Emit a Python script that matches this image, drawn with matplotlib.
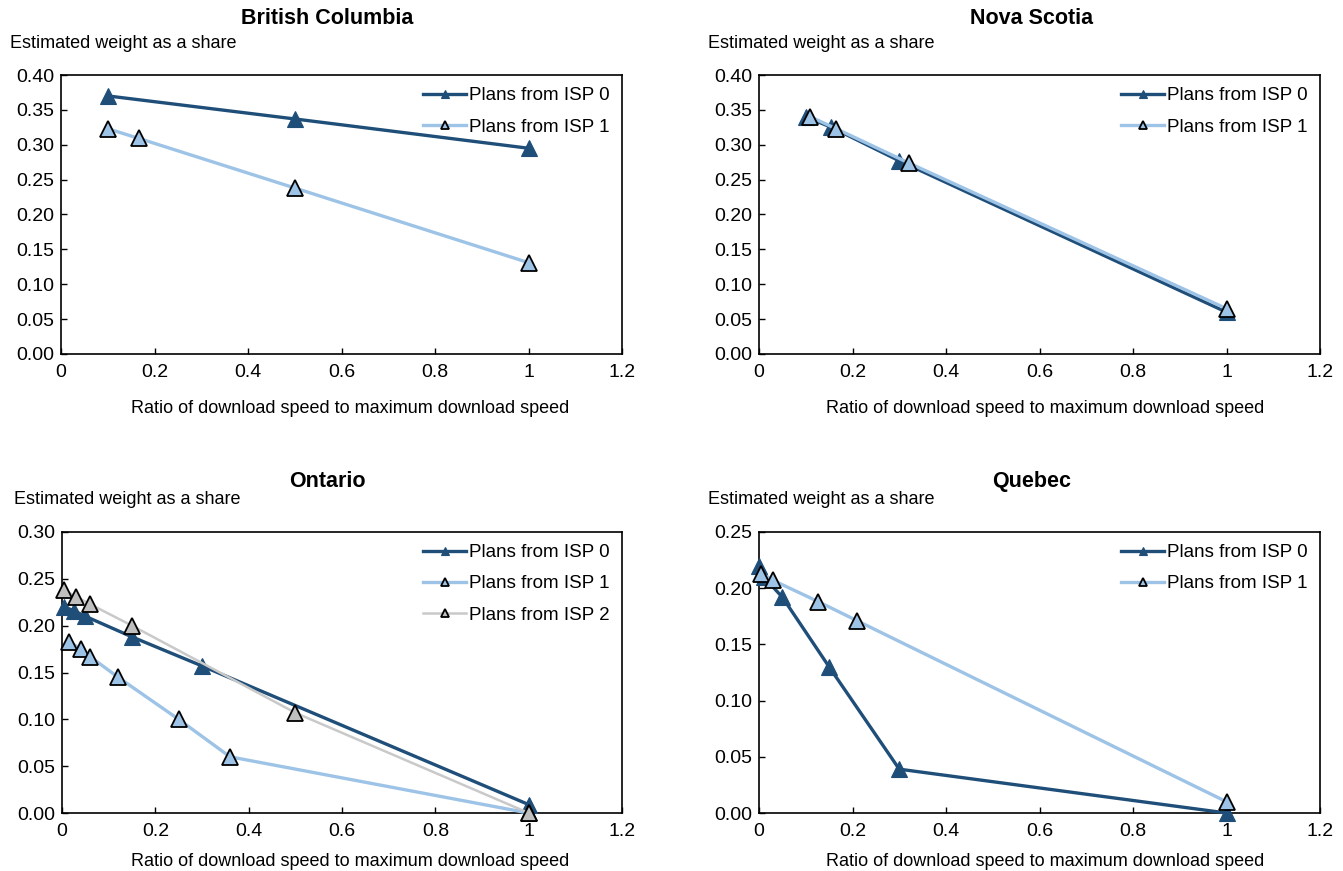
import matplotlib
matplotlib.use("Agg")
import matplotlib.pyplot as plt
from matplotlib import font_manager

fams = [f.name for f in font_manager.fontManager.ttflist]
narrow = "Liberation Sans Narrow" if "Liberation Sans Narrow" in fams else "Liberation Sans"
plt.rcParams['font.family'] = [narrow, 'DejaVu Sans']

# ---- data ----
bc_x0 = [0.1, 0.5, 1.0]
bc_y0 = [0.370, 0.337, 0.295]
bc_x1 = [0.1, 0.167, 0.5, 1.0]
bc_y1 = [0.323, 0.309, 0.238, 0.131]

ns_x0 = [0.1, 0.155, 0.30, 1.0]
ns_y0 = [0.340, 0.325, 0.277, 0.060]
ns_x1 = [0.11, 0.165, 0.32, 1.0]
ns_y1 = [0.340, 0.323, 0.274, 0.065]

on_x0 = [0.005, 0.025, 0.05, 0.15, 0.30, 1.0]
on_y0 = [0.220, 0.216, 0.210, 0.188, 0.157, 0.009]
on_x1 = [0.015, 0.04, 0.06, 0.12, 0.25, 0.36, 1.0]
on_y1 = [0.183, 0.175, 0.167, 0.145, 0.100, 0.060, 0.000]
on_x2 = [0.005, 0.03, 0.06, 0.15, 0.50, 1.0]
on_y2 = [0.238, 0.231, 0.223, 0.200, 0.107, 0.000]

qc_x0 = [0.0, 0.01, 0.05, 0.15, 0.30, 1.0]
qc_y0 = [0.220, 0.210, 0.192, 0.130, 0.039, 0.000]
qc_x1 = [0.005, 0.03, 0.127, 0.21, 1.0]
qc_y1 = [0.213, 0.207, 0.188, 0.171, 0.010]

titles = ["British Columbia", "Nova Scotia", "Ontario", "Quebec"]
legend_labels = ["Plans from ISP 0", "Plans from ISP 1", "Plans from ISP 2"]
x_ticks = [0, 0.2, 0.4, 0.6, 0.8, 1.0, 1.2]
x_ticklabels = ["0", "0.2", "0.4", "0.6", "0.8", "1", "1.2"]
ylabel = "Estimated weight as a share"
xlabel = "Ratio of download speed to maximum download speed"

DARK = "#1F4E79"
LIGHT = "#9DC3E6"
GREY = "#C9C9C9"
GREY_FACE = "#BFBFBF"

fig = plt.figure(figsize=(13.43, 8.71), dpi=100)
W, H = 1343, 871

def axes_px(x0, x1, ytop, ybot):
    return fig.add_axes([x0 / W, 1 - ybot / H, (x1 - x0) / W, (ybot - ytop) / H])

panels = [
    dict(pos=(61, 622, 75, 354), ymax=0.40, yt=0.05,
         series=[(bc_x0, bc_y0, 0), (bc_x1, bc_y1, 1)],
         title_xy=(327, 18), ylab_xy=(10, 43), xlab_xy=(350, 408)),
    dict(pos=(759, 1320, 75, 354), ymax=0.40, yt=0.05,
         series=[(ns_x0, ns_y0, 0), (ns_x1, ns_y1, 1)],
         title_xy=(1032, 18), ylab_xy=(708, 43), xlab_xy=(1045, 408)),
    dict(pos=(62, 622, 532, 813), ymax=0.30, yt=0.05,
         series=[(on_x0, on_y0, 0), (on_x1, on_y1, 1), (on_x2, on_y2, 2)],
         title_xy=(327, 481), ylab_xy=(14, 500), xlab_xy=(350, 861)),
    dict(pos=(759, 1320, 532, 813), ymax=0.25, yt=0.05,
         series=[(qc_x0, qc_y0, 0), (qc_x1, qc_y1, 1)],
         title_xy=(1032, 481), ylab_xy=(708, 500), xlab_xy=(1045, 861)),
]

styles = {
    0: dict(color=DARK, lw=2.4, mfc=DARK, mec=DARK, ms=11, mew=0.8),
    1: dict(color=LIGHT, lw=2.4, mfc=LIGHT, mec="black", ms=11, mew=1.3),
    2: dict(color=GREY, lw=1.8, mfc=GREY_FACE, mec="black", ms=11, mew=1.3),
}

for p, title in zip(panels, titles):
    ax = axes_px(*p["pos"])
    handles = []
    for xs, ys, k in p["series"]:
        st = styles[k]
        ln, = ax.plot(xs, ys, color=st["color"], lw=st["lw"], marker="^",
                      markerfacecolor=st["mfc"], markeredgecolor=st["mec"],
                      markersize=st["ms"], markeredgewidth=st["mew"],
                      label=legend_labels[k], clip_on=False, zorder=3 + k)
        handles.append(ln)
    ax.set_xlim(0, 1.2)
    ax.set_ylim(0, p["ymax"])
    ax.set_xticks(x_ticks)
    ax.set_xticklabels(x_ticklabels)
    n = int(round(p["ymax"] / p["yt"]))
    yticks = [i * p["yt"] for i in range(n + 1)]
    ax.set_yticks(yticks)
    ax.set_yticklabels([f"{v:.2f}" for v in yticks])
    ax.tick_params(axis="both", direction="in", length=4, width=1, labelsize=14,
                   colors="black")
    ax.tick_params(axis="x", pad=7)
    ax.tick_params(axis="y", pad=5)
    for s in ax.spines.values():
        s.set_linewidth(1.2)
        s.set_color("black")
    leg = ax.legend(handles=handles, loc="upper right", frameon=False,
                    fontsize=13.5, handlelength=2.3, handletextpad=0.15,
                    labelspacing=0.75, borderaxespad=0.25, markerscale=0.5,
                    borderpad=0.4)
    tx, ty = p["title_xy"]
    fig.text(tx / W, 1 - ty / H, title, ha="center", va="center",
             fontsize=15.5, fontweight="bold")
    lx, ly = p["ylab_xy"]
    fig.text(lx / W, 1 - ly / H, ylabel, ha="left", va="center", fontsize=13)
    xx, xy = p["xlab_xy"]
    fig.text(xx / W, 1 - xy / H, xlabel, ha="center", va="center", fontsize=13)

fig.savefig("out.png", dpi=100, facecolor="white")
